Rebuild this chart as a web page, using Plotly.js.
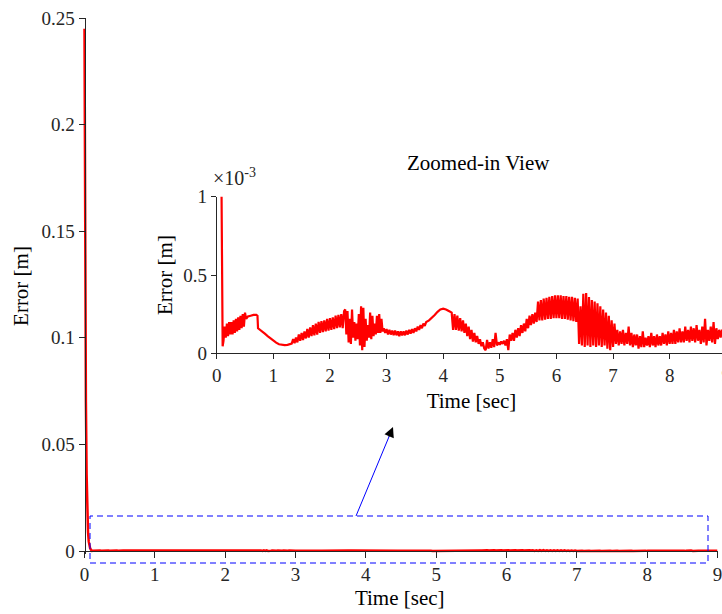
<!DOCTYPE html>
<html>
<head>
<meta charset="utf-8">
<script src="https://cdn.plot.ly/plotly-3.0.1.min.js"></script>
<style>
  html, body { margin: 0; padding: 0; overflow: hidden; background: #fff; }
  #chart { width: 760px; height: 614px; }
</style>
</head>
<body>
<div id="chart"></div>
<script>
// Tracking error of the controller, sampled in time (error stored in units of 1e-3 m)
const timeSec = [
  // initial transient
  0, 0.005, 0.01, 0.015, 0.02, 0.03, 0.04, 0.05, 0.06, 0.07, 0.08, 0.09, 0.1, 0.105,
  // first vibration band
  0.12, 0.14, 0.16, 0.18, 0.20, 0.22, 0.24, 0.26, 0.28, 0.30,
  0.32, 0.34, 0.36, 0.38, 0.40, 0.42, 0.44, 0.46, 0.48, 0.50,
  // plateau, step down and smooth dip
  0.52, 0.55, 0.6, 0.65, 0.7, 0.72, 0.73, 0.75, 0.8, 0.85,
  0.9, 0.95, 1.0, 1.05, 1.1, 1.15, 1.2, 1.25, 1.3,
  // widening band
  1.325, 1.35, 1.375, 1.4, 1.425, 1.45, 1.475, 1.5, 1.525, 1.55,
  1.575, 1.6, 1.625, 1.65, 1.675, 1.7, 1.725, 1.75, 1.775, 1.8,
  1.825, 1.85, 1.875, 1.9, 1.925, 1.95, 1.975, 2.0, 2.025, 2.05,
  2.075, 2.1, 2.125, 2.15, 2.175, 2.2, 2.225, 2.25,
  // irregular spikes
  2.27, 2.29, 2.31, 2.33, 2.35, 2.37, 2.39, 2.41, 2.43, 2.45,
  2.47, 2.49, 2.51, 2.53, 2.55, 2.57, 2.59, 2.61, 2.63, 2.65,
  2.67, 2.69, 2.71, 2.73, 2.75, 2.77, 2.79, 2.81, 2.83, 2.85,
  2.87, 2.89, 2.91, 2.93, 2.95,
  // narrow band and smooth hump near 4 s
  2.975, 3.0, 3.025, 3.05, 3.075, 3.1, 3.125, 3.15, 3.175, 3.2,
  3.225, 3.25, 3.275, 3.3, 3.325, 3.35, 3.375, 3.4, 3.425, 3.45,
  3.475, 3.5, 3.525, 3.55, 3.575, 3.6, 3.625, 3.65, 3.675, 3.7,
  3.75, 3.8, 3.85, 3.9, 3.95, 4.0, 4.05, 4.1, 4.15,
  // decaying band
  4.175, 4.2, 4.225, 4.25, 4.275, 4.3, 4.325, 4.35, 4.375, 4.4,
  4.425, 4.45, 4.475, 4.5, 4.525, 4.55, 4.575, 4.6, 4.625, 4.65,
  4.675, 4.7, 4.725, 4.75,
  // low noisy stretch
  4.775, 4.8, 4.825, 4.85, 4.875, 4.9, 4.925, 4.95, 4.975, 5.0,
  5.025, 5.05, 5.075, 5.1, 5.125, 5.15, 5.175, 5.2,
  // broad band around 6 s
  5.225, 5.25, 5.275, 5.3, 5.325, 5.35, 5.375, 5.4, 5.425, 5.45,
  5.475, 5.5, 5.525, 5.55, 5.575, 5.6, 5.625, 5.65, 5.675, 5.7,
  5.725, 5.75, 5.775, 5.8, 5.825, 5.85, 5.875, 5.9, 5.925, 5.95,
  5.975, 6.0, 6.025, 6.05, 6.075, 6.1, 6.125, 6.15, 6.175, 6.2,
  6.225, 6.25, 6.275, 6.3, 6.325, 6.35, 6.375,
  // wide band after 6.4 s
  6.4, 6.425, 6.45, 6.475, 6.5, 6.525, 6.55, 6.575, 6.6, 6.625,
  6.65, 6.675, 6.7, 6.725, 6.75, 6.775, 6.8, 6.825, 6.85, 6.875,
  6.9, 6.925, 6.95, 6.975, 7.0, 7.025,
  // residual band to the end
  7.05, 7.075, 7.1, 7.125, 7.15, 7.175, 7.2, 7.225, 7.25, 7.275,
  7.3, 7.325, 7.35, 7.375, 7.4, 7.425, 7.45, 7.475, 7.5, 7.525,
  7.55, 7.575, 7.6, 7.625, 7.65, 7.675, 7.7, 7.725, 7.75, 7.775,
  7.8, 7.825, 7.85, 7.875, 7.9, 7.925, 7.95, 7.975, 8.0, 8.025,
  8.05, 8.075, 8.1, 8.125, 8.15, 8.175, 8.2, 8.225, 8.25, 8.275,
  8.3, 8.325, 8.35, 8.375, 8.4, 8.425, 8.45, 8.475, 8.5, 8.525,
  8.55, 8.575, 8.6, 8.625, 8.65, 8.675, 8.7, 8.725, 8.75, 8.775,
  8.8, 8.825, 8.85, 8.875, 8.9, 8.925, 8.95, 9.0
];

const errorMm = [
  245, 190, 140, 100, 70, 36, 18, 9, 4.5, 2.3, 1.3, 0.7, 0.2, 0.045,
  0.08, 0.17, 0.10, 0.19, 0.11, 0.20, 0.12, 0.20, 0.12, 0.21,
  0.13, 0.22, 0.14, 0.23, 0.15, 0.24, 0.16, 0.25, 0.17, 0.26,
  0.22, 0.235, 0.24, 0.245, 0.245, 0.24, 0.16, 0.155, 0.14, 0.125,
  0.11, 0.095, 0.08, 0.068, 0.058, 0.053, 0.052, 0.054, 0.06,
  0.062, 0.09, 0.065, 0.10, 0.07, 0.12, 0.08, 0.13, 0.085, 0.14,
  0.095, 0.155, 0.10, 0.165, 0.11, 0.18, 0.115, 0.19, 0.12, 0.20,
  0.13, 0.205, 0.135, 0.21, 0.14, 0.22, 0.145, 0.225, 0.15, 0.23,
  0.155, 0.24, 0.16, 0.245, 0.165, 0.25, 0.16, 0.27,
  0.28, 0.12, 0.27, 0.07, 0.22, 0.06, 0.28, 0.10, 0.20, 0.08,
  0.19, 0.09, 0.25, 0.05, 0.30, 0.02, 0.29, 0.04, 0.22, 0.08,
  0.18, 0.10, 0.26, 0.09, 0.24, 0.11, 0.19, 0.12, 0.24, 0.13,
  0.25, 0.13, 0.22, 0.14, 0.16,
  0.13, 0.155, 0.12, 0.15, 0.12, 0.145, 0.115, 0.145, 0.115, 0.14,
  0.11, 0.14, 0.115, 0.14, 0.115, 0.145, 0.12, 0.15, 0.125, 0.155,
  0.13, 0.16, 0.14, 0.17, 0.15, 0.18, 0.16, 0.19, 0.175, 0.2,
  0.21, 0.225, 0.245, 0.265, 0.28, 0.285, 0.28, 0.27, 0.26,
  0.15, 0.25, 0.15, 0.24, 0.145, 0.225, 0.14, 0.21, 0.13, 0.19,
  0.11, 0.17, 0.09, 0.15, 0.075, 0.13, 0.07, 0.11, 0.06, 0.09,
  0.045, 0.07, 0.03, 0.02,
  0.085, 0.03, 0.07, 0.035, 0.09, 0.04, 0.13, 0.05, 0.07, 0.055,
  0.075, 0.06, 0.08, 0.05, 0.09, 0.02, 0.12, 0.08,
  0.13, 0.08, 0.15, 0.10, 0.16, 0.11, 0.18, 0.13, 0.19, 0.14,
  0.22, 0.16, 0.24, 0.18, 0.25, 0.19, 0.26, 0.2, 0.33, 0.21,
  0.34, 0.21, 0.35, 0.215, 0.355, 0.22, 0.36, 0.22, 0.365, 0.225,
  0.37, 0.225, 0.37, 0.225, 0.37, 0.22, 0.365, 0.22, 0.365, 0.215,
  0.36, 0.21, 0.36, 0.205, 0.355, 0.2, 0.35,
  0.06, 0.30, 0.05, 0.38, 0.04, 0.385, 0.05, 0.36, 0.04, 0.34,
  0.05, 0.33, 0.04, 0.32, 0.05, 0.30, 0.04, 0.28, 0.05, 0.26,
  0.03, 0.24, 0.02, 0.21, 0.04, 0.19,
  0.06, 0.15, 0.05, 0.14, 0.06, 0.15, 0.05, 0.13, 0.06, 0.17,
  0.05, 0.13, 0.04, 0.12, 0.05, 0.12, 0.03, 0.11, 0.04, 0.14,
  0.04, 0.10, 0.05, 0.11, 0.04, 0.13, 0.05, 0.11, 0.04, 0.12,
  0.05, 0.11, 0.05, 0.13, 0.06, 0.12, 0.05, 0.14, 0.06, 0.13,
  0.06, 0.15, 0.06, 0.14, 0.07, 0.16, 0.07, 0.14, 0.07, 0.17,
  0.08, 0.15, 0.07, 0.17, 0.08, 0.16, 0.07, 0.18, 0.08, 0.15,
  0.06, 0.17, 0.07, 0.22, 0.05, 0.15, 0.08, 0.17, 0.07, 0.20,
  0.06, 0.16, 0.09, 0.15, 0.10, 0.15, 0.11, 0.14
];

const mainTicksX = [0, 1, 2, 3, 4, 5, 6, 7, 8, 9];
const mainTicksY = [0, 0.05, 0.1, 0.15, 0.2, 0.25];
const mainTickText = ['0', '0.05', '0.1', '0.15', '0.2', '0.25'];
const insetTicksY = [0, 0.0005, 0.001];
const insetTickText = ['0', '0.5', '1'];

// error in metres
const errorM = errorMm.map(v => v / 1000);

// ---- geometry helpers (pixel -> paper fraction) ----
const W = 760, H = 614;
const M = { l: 82, r: 18, t: 18, b: 60 };
const plotW = W - M.l - M.r;
const plotH = H - M.t - M.b;
const px = x => (x - M.l) / plotW;
const py = y => (M.t + plotH - y) / plotH;

const serif = "'Liberation Serif', 'Times New Roman', serif";
const axisCol = '#262626';

const axisCommon = {
  showgrid: false, zeroline: false, showline: true,
  linecolor: axisCol, linewidth: 1,
  ticks: 'outside', tickcolor: axisCol, tickwidth: 1,
  tickfont: { family: serif, size: 19, color: axisCol },
  fixedrange: true
};

const traces = [
  {
    x: timeSec, y: errorM, type: 'scatter', mode: 'lines',
    xaxis: 'x', yaxis: 'y',
    line: { color: '#ff0000', width: 2.5 },
    hoverinfo: 'skip'
  },
  {
    x: timeSec, y: errorM, type: 'scatter', mode: 'lines',
    xaxis: 'x2', yaxis: 'y2',
    line: { color: '#ff0000', width: 2.2 },
    hoverinfo: 'skip'
  }
];

const layout = {
  width: W, height: H,
  margin: M,
  paper_bgcolor: '#fff', plot_bgcolor: 'rgba(0,0,0,0)',
  showlegend: false,
  font: { family: serif, color: '#000' },
  xaxis: Object.assign({}, axisCommon, {
    domain: [0, px(717.5)],
    range: [-0.0355, 9],
    anchor: 'free', position: py(551),
    tickmode: 'array', tickvals: mainTicksX, ticklen: 6,
    title: { text: 'Time [sec]', font: { family: serif, size: 21, color: '#000' }, standoff: 6 }
  }),
  yaxis: Object.assign({}, axisCommon, {
    domain: [0, 1],
    range: [-0.001407, 0.25],
    anchor: 'free', position: px(84.5),
    tickmode: 'array', tickvals: mainTicksY, ticktext: mainTickText, ticklen: 6,
    title: { text: 'Error [m]', font: { family: serif, size: 21, color: '#000' }, standoff: 6 }
  }),
  xaxis2: Object.assign({}, axisCommon, {
    domain: [px(216.7), px(726.3)],
    range: [0, 9],
    anchor: 'y2',
    tickmode: 'array', tickvals: mainTicksX, ticklen: 5,
    title: { text: 'Time [sec]', font: { family: serif, size: 21, color: '#000' }, standoff: 8 }
  }),
  yaxis2: Object.assign({}, axisCommon, {
    domain: [py(353.3), py(196.7)],
    range: [0, 0.001],
    anchor: 'x2',
    tickmode: 'array', tickvals: insetTicksY, ticktext: insetTickText, ticklen: 5,
    title: { text: 'Error [m]', font: { family: serif, size: 21, color: '#000' }, standoff: 4 }
  }),
  shapes: [
    // dashed box around the region shown enlarged
    {
      type: 'rect', xref: 'paper', yref: 'paper',
      x0: px(90), x1: px(708), y0: py(563), y1: py(516),
      line: { color: '#0000ff', width: 1, dash: '6px,4px' }
    },
    // arrow shaft
    {
      type: 'line', xref: 'paper', yref: 'paper',
      x0: px(356), y0: py(516), x1: px(389.5), y1: py(435.5),
      line: { color: '#0000ff', width: 1 }
    }
  ],
  annotations: [
    {
      text: 'Zoomed-in View', xref: 'paper', yref: 'paper',
      x: px(478), y: py(163), xanchor: 'center', yanchor: 'middle',
      showarrow: false, font: { family: serif, size: 21, color: '#000' }
    },
    {
      text: '×10<sup>-3</sup>', xref: 'paper', yref: 'paper',
      x: px(211), y: py(191), xanchor: 'left', yanchor: 'bottom',
      showarrow: false, font: { family: serif, size: 20, color: axisCol }
    },
    {
      text: '', xref: 'paper', yref: 'paper',
      x: px(393), y: py(427), ax: -4.6, ay: 11,
      showarrow: true, arrowhead: 2, arrowsize: 2, arrowwidth: 1,
      arrowcolor: '#000'
    }
  ]
};

Plotly.newPlot('chart', traces, layout, { staticPlot: true, displayModeBar: false });
</script>
</body>
</html>
